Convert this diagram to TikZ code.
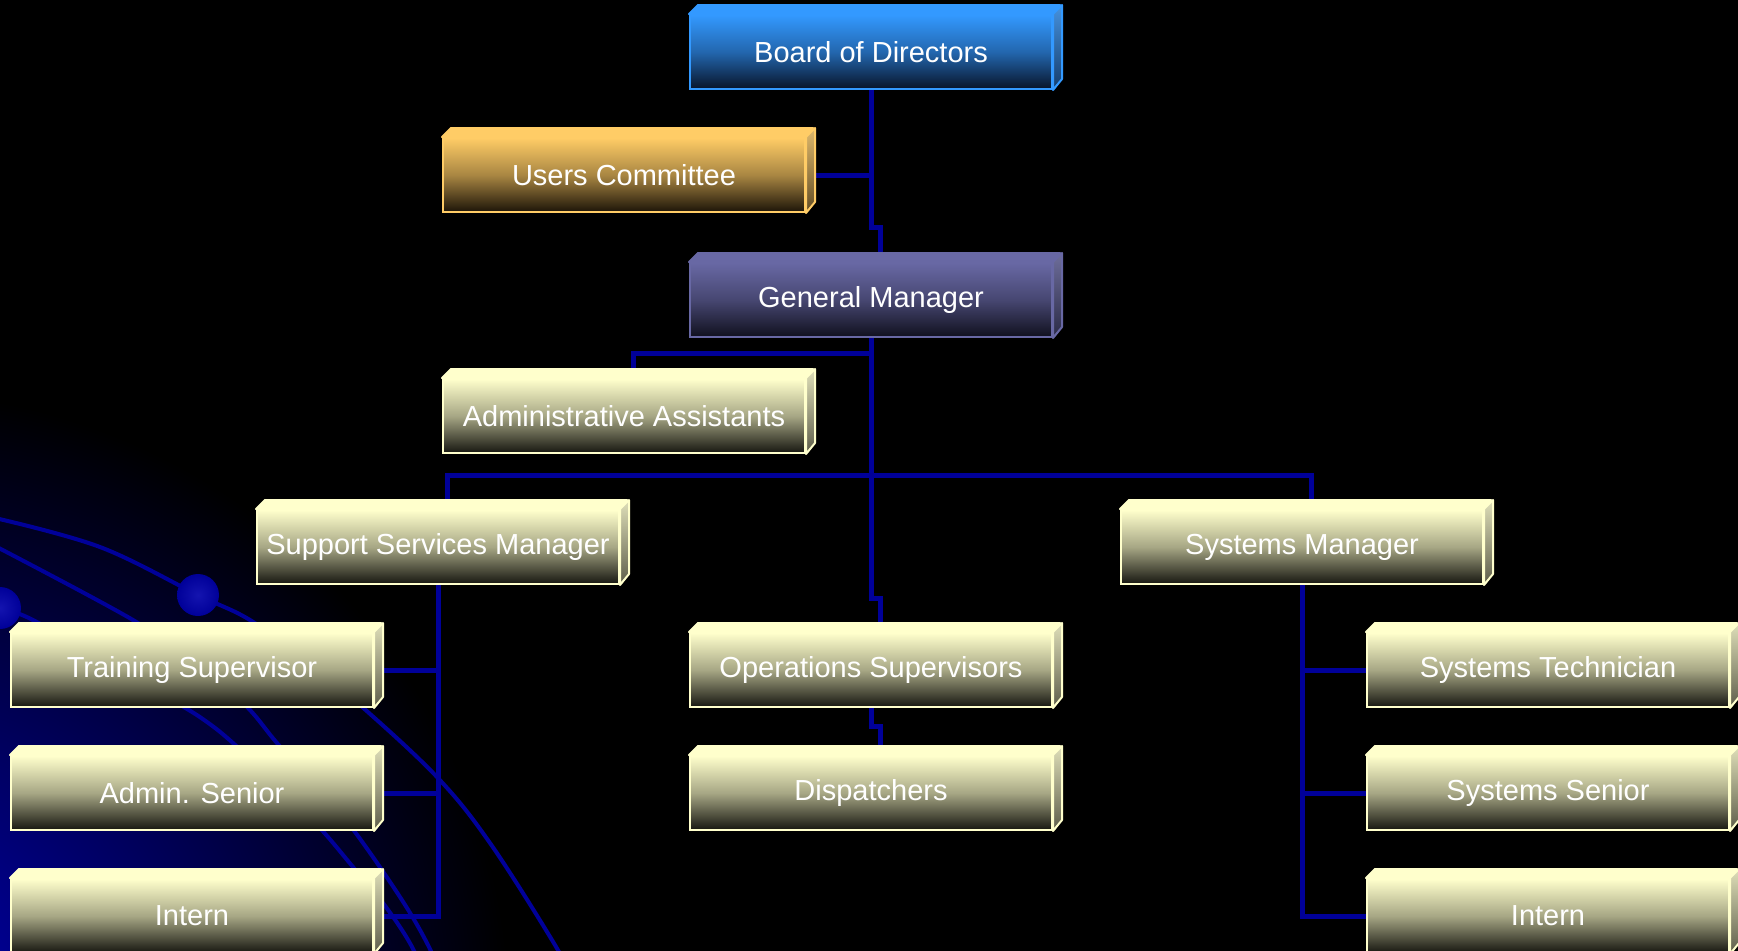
\documentclass[tikz,border=0pt]{standalone}
\usepackage{fontspec}
\setmainfont{Liberation Sans}
\usepackage{xcolor}

\pgfdeclarelayer{deco}
\pgfdeclarelayer{links}
\pgfsetlayers{deco,links,main}

\definecolor{linkblue}{RGB}{0,0,153}
\definecolor{glowblue}{RGB}{0,0,180}
\definecolor{dotblue}{RGB}{20,20,175}
\definecolor{creamhi}{RGB}{255,255,204}
\definecolor{creamlo}{RGB}{22,22,16}
\definecolor{bluehi}{RGB}{51,153,255}
\definecolor{bluelo}{RGB}{8,20,42}
\definecolor{goldhi}{RGB}{255,204,102}
\definecolor{goldlo}{RGB}{28,20,8}
\definecolor{purphi}{RGB}{104,104,164}
\definecolor{purplo}{RGB}{16,16,30}

\tikzset{
  orgbox/.style={rectangle, inner sep=0pt, minimum width=181pt, minimum height=37pt,
    line width=1pt, text=white, font=\fontsize{14.5}{17}\selectfont},
  cream/.style={orgbox, draw=creamhi, top color=creamhi, bottom color=creamlo, middle color=creamhi!62!creamlo},
  blue/.style={orgbox, draw=bluehi, top color=bluehi, bottom color=bluelo, middle color=bluehi!62!bluelo},
  gold/.style={orgbox, draw=goldhi, top color=goldhi, bottom color=goldlo, middle color=goldhi!62!goldlo},
  purp/.style={orgbox, draw=purphi, top color=purphi, bottom color=purplo, middle color=purphi!62!purplo},
  link/.style={draw=linkblue, line width=2.5pt},
  orbit/.style={draw=linkblue, line width=2pt},
}

\begin{document}
\begin{tikzpicture}[x=0.5pt,y=0.5pt,yscale=-1,xscale=1]
\useasboundingbox (0,0) rectangle (1738,950);

%Background: black with blue glow and orbits
\begin{pgfonlayer}{deco}
\fill[black] (-20,-20) rectangle (1758,970);
\begin{scope}
\clip (-20,-20) rectangle (1758,970);
\shade[inner color=glowblue, outer color=black] (-120,1020) circle (630);
\draw[orbit] plot[smooth, tension=0.6] coordinates {(-5,518) (100,547) (198,595) (250,620) (305,660) (360,705) (437,777) (490,843) (555,945) (575,985)};
\draw[orbit] plot[smooth, tension=0.6] coordinates {(-5,546) (133,620) (188,660) (243,703) (277,743) (315,785) (352,828) (400,897) (428,945) (445,985)};
\draw[orbit] plot[smooth, tension=0.6] coordinates {(0,608) (33,620) (105,662) (177,703) (207,722) (233,743) (278,785) (320,828) (353,867) (383,903) (411,945) (428,985)};
\shade[inner color=dotblue, outer color=linkblue] (198,595) circle (21);
\shade[inner color=dotblue, outer color=linkblue] (0,608) circle (21);
\end{scope}
\end{pgfonlayer}

% Text Node
\node[blue] (bod) at (871,52) {Board of Directors};
% Text Node
\node[gold] (uc) at (624,175) {Users Committee};
% Text Node
\node[purp] (gm) at (871,300) {General Manager};
% Text Node
\node[cream] (aa) at (624,416) {Administrative Assistants};
% Text Node
\node[cream] (ssm) at (438,547) {Support Services Manager};
% Text Node
\node[cream] (sm) at (1302,547) {Systems Manager};
% Text Node
\node[cream] (ts) at (192,670) {Training Supervisor};
% Text Node
\node[cream] (as) at (192,793) {Admin. Senior};
% Text Node
\node[cream] (il) at (192,916) {Intern};
% Text Node
\node[cream] (ops) at (871,670) {Operations Supervisors};
% Text Node
\node[cream] (disp) at (871,793) {Dispatchers};
% Text Node
\node[cream] (st) at (1548,670) {Systems Technician};
% Text Node
\node[cream] (sse) at (1548,793) {Systems Senior};
% Text Node
\node[cream] (ir) at (1548,916) {Intern};

%Shape: top and side faces of the boxes
\foreach \n/\col in {bod/blue,uc/gold,gm/purp,aa/cream,ssm/cream,sm/cream,ts/cream,as/cream,il/cream,ops/cream,disp/cream,st/cream,sse/cream,ir/cream}{
  \filldraw[fill=\col hi, draw=\col hi, line width=1pt, line join=round] (\n.north east) -- (\n.north west) -- ++(9,-9) -- ++(362,0) -- cycle;
  \shade[top color=\col hi!75!gray, bottom color=\col hi!30!\col lo] (\n.south east) -- (\n.north east) -- ++(9,-9) -- ++(0,74) -- cycle;
  \draw[\col hi, line width=1pt, line join=round] (\n.south east) -- (\n.north east) -- ++(9,-9) -- ++(0,74) -- cycle;
}

\coordinate (bus) at (871,475);
\coordinate (aaj) at (871,353);

%Shape: connectors
\begin{pgfonlayer}{links}
\draw[link] (bod) -- ++(0,175) -- ++(9,0) |- (gm);
\draw[link] (uc) -- (uc -| bod);
\draw[link] (gm) -- (bus);
\draw[link] (aaj) -| ([xshift=4.5pt]aa.center);
\draw[link] ([xshift=4.5pt]ssm.center) |- (bus) -| ([xshift=4.5pt]sm.center);
\draw[link] (bus) -- ++(0,123) -- ++(9,0) |- (ops);
\draw[link] (ops) -- ++(0,56) -- ++(9,0) |- (disp);
\foreach \k in {ts,as,il} \draw[link] (ssm) |- (\k);
\foreach \k in {st,sse,ir} \draw[link] (sm) |- (\k);
\end{pgfonlayer}

\end{tikzpicture}
\end{document}
